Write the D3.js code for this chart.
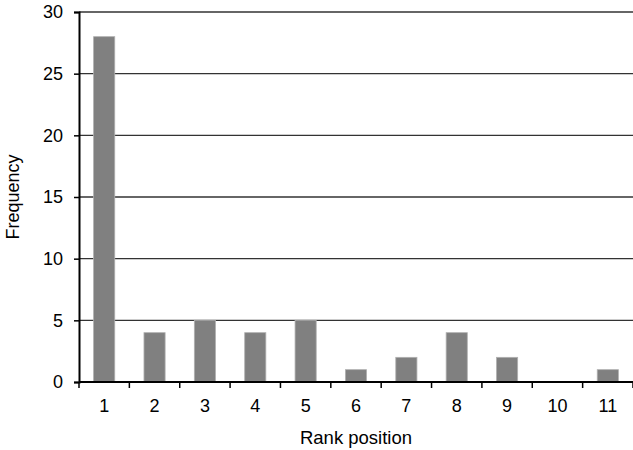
<!DOCTYPE html>
<html>
<head>
<script src="https://d3js.org/d3.v7.min.js"></script>
<style>
    body { margin: 0; background: #fff; }
    text { font-family: "Liberation Sans", Arial, sans-serif; fill: #000; }
    .grid line { stroke: #333; stroke-width: 1.4px; }
    .bar { fill: #808080; stroke: #b0b0b0; stroke-width: 0.8px; }
</style>
</head>
<body>
<script>
    // data
    var ranks = ["1", "2", "3", "4", "5", "6", "7", "8", "9", "10", "11"];
    var frequency = [28, 4, 5, 4, 5, 1, 2, 4, 2, 0, 1];
    var yTicks = [0, 5, 10, 15, 20, 25, 30];

    var width = 633, height = 450;
    var margin = {top: 12, right: 0, bottom: 68, left: 79};

    var svg = d3.select("body").append("svg")
        .attr("width", width)
        .attr("height", height);

    var x = d3.scaleBand()
        .domain(ranks)
        .range([margin.left, width - margin.right])
        .paddingInner(0.58)
        .paddingOuter(0.29);

    var y = d3.scaleLinear()
        .domain([0, 30])
        .range([height - margin.bottom, margin.top]);

    // horizontal grid lines
    svg.append("g")
        .attr("class", "grid")
        .selectAll("line")
        .data(yTicks.filter(d => d > 0))
        .enter()
        .append("line")
        .attr("x1", margin.left)
        .attr("x2", width - margin.right)
        .attr("y1", d => y(d))
        .attr("y2", d => y(d));

    // bars
    svg.append("g")
        .selectAll("rect")
        .data(frequency)
        .enter()
        .append("rect")
        .attr("class", "bar")
        .attr("x", (d, i) => x(ranks[i]))
        .attr("width", x.bandwidth())
        .attr("y", d => y(d))
        .attr("height", d => y(0) - y(d));

    // y axis
    var yAxis = svg.append("g")
        .attr("transform", "translate(" + margin.left + ",0)")
        .call(d3.axisLeft(y).tickValues(yTicks).tickSize(5).tickPadding(11));
    yAxis.select(".domain").attr("stroke", "#000").attr("stroke-width", 2);
    yAxis.selectAll(".tick line").attr("stroke", "#000").attr("stroke-width", 1.5);
    yAxis.selectAll("text").style("font-size", "18px");

    // x axis: ticks sit on the band edges, labels in the band centres
    var edges = d3.range(ranks.length + 1).map(i => margin.left + i * (width - margin.left - margin.right) / ranks.length);
    var xg = svg.append("g");
    xg.append("line")
        .attr("x1", margin.left)
        .attr("x2", width - margin.right)
        .attr("y1", y(0))
        .attr("y2", y(0))
        .attr("stroke", "#000")
        .attr("stroke-width", 2);
    xg.selectAll(".edge")
        .data(edges)
        .enter()
        .append("line")
        .attr("x1", d => d)
        .attr("x2", d => d)
        .attr("y1", y(0))
        .attr("y2", y(0) + 6)
        .attr("stroke", "#000")
        .attr("stroke-width", 1.5);
    xg.selectAll("text")
        .data(ranks)
        .enter()
        .append("text")
        .attr("x", d => x(d) + x.bandwidth() / 2)
        .attr("y", y(0) + 30)
        .attr("text-anchor", "middle")
        .style("font-size", "18px")
        .text(d => d);

    // axis titles
    svg.append("text")
        .attr("x", (margin.left + width) / 2)
        .attr("y", 444)
        .attr("text-anchor", "middle")
        .style("font-size", "18.5px")
        .text("Rank position");

    svg.append("text")
        .attr("transform", "translate(19," + ((margin.top + y(0)) / 2) + ") rotate(-90)")
        .attr("text-anchor", "middle")
        .style("font-size", "18px")
        .text("Frequency");
</script>
</body>
</html>
